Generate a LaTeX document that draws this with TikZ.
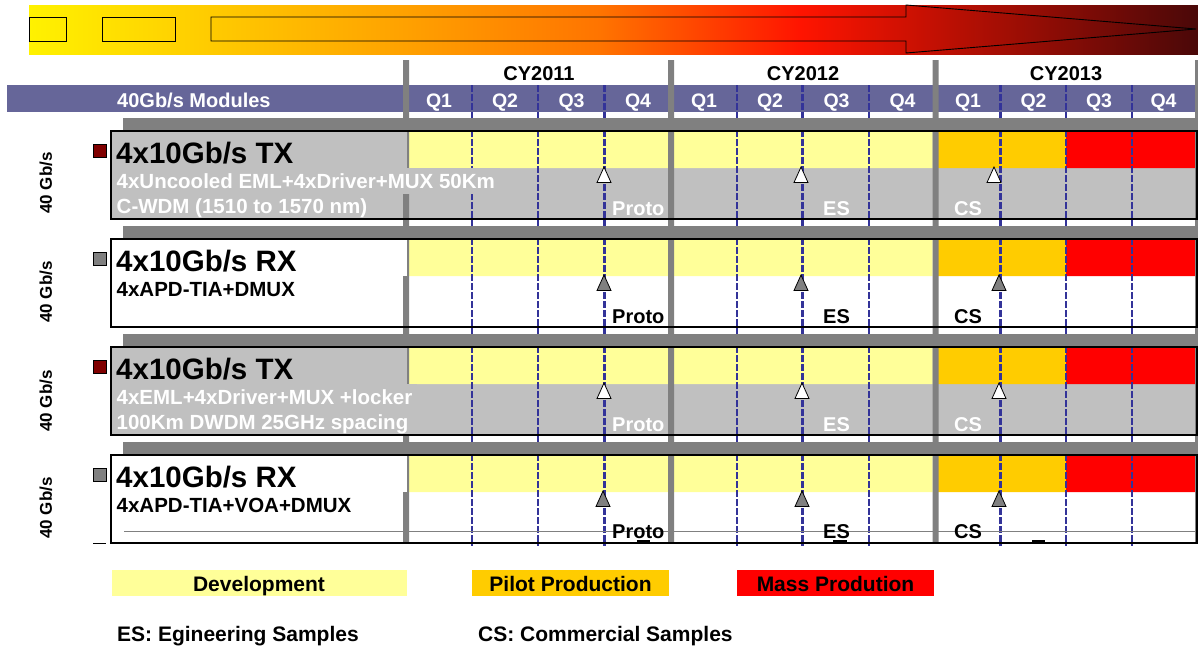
\documentclass[tikz,border=0pt]{standalone}
\usepackage{tikz}
\usepackage{fontspec}
\setmainfont{Liberation Sans}

\definecolor{bandA}{HTML}{FFF200}
\definecolor{bandB}{HTML}{FFA200}
\definecolor{bandE}{HTML}{FF7400}
\definecolor{bandC}{HTML}{FF1400}
\definecolor{bandD}{HTML}{4A0808}
\definecolor{hdrblue}{HTML}{666699}
\definecolor{bargray}{HTML}{808080}
\definecolor{rowgray}{HTML}{C0C0C0}
\definecolor{devyellow}{HTML}{FFFF99}
\definecolor{pilotorange}{HTML}{FFCC00}
\definecolor{massred}{HTML}{FF0000}
\definecolor{qblue}{HTML}{333399}
\definecolor{txred}{HTML}{800000}

\pgfdeclarehorizontalshading{bandshade}{100bp}{color(0bp)=(bandA); color(25bp)=(bandA); color(40.9bp)=(bandB); color(49.4bp)=(bandE); color(58bp)=(bandC); color(75bp)=(bandD); color(100bp)=(bandD)}

\begin{document}
\begin{tikzpicture}[
  x=1pt, y=-1pt,
  hdr/.style={font=\bfseries\fontsize{20}{22}\selectfont, inner sep=0pt, anchor=base},
  qlab/.style={font=\bfseries\fontsize{19.5}{22}\selectfont, text=white, inner sep=0pt, anchor=base},
  rowtitle/.style={font=\bfseries\fontsize{29.5}{32}\selectfont, inner sep=0pt, anchor=base west},
  subline/.style={font=\bfseries\fontsize{20.5}{24}\selectfont, anchor=base west, inner xsep=5pt, inner ysep=0pt, text height=20.5pt, text depth=5.5pt},
  mile/.style={font=\bfseries\fontsize{20}{22}\selectfont, inner sep=0pt, anchor=base west},
  rate/.style={font=\bfseries\fontsize{17}{20}\selectfont, rotate=90, inner sep=0pt},
  qline/.style={draw=qblue, line width=2pt, dash pattern=on 7pt off 2pt},
  mline/.style={qline, line width=3pt},
  tri/.style={draw=black, line width=0.8pt},
  legtext/.style={font=\bfseries\fontsize{21}{24}\selectfont, inner sep=0pt, anchor=base},
  scale=1
]
\useasboundingbox (0,0) rectangle (1198,648);

% Timeline band
\shade[shading=bandshade] (29,5) rectangle (1198,54);
\draw[line width=0.9pt] (29,17) rectangle (66,41);
\draw[line width=0.9pt] (102,17) rectangle (175,41);
\draw[line width=0.9pt] (211,17) -- (906,17) -- (906,5) -- (1196,29) -- (906,53) -- (906,41) -- (211,41) -- cycle;

% Header
\fill[hdrblue] (7,85) rectangle (1195,112);
\node[hdr, text=white, anchor=base west] (modules) at (117,107) {40Gb/s Modules};
\node[hdr] (cy11) at (539,80) {CY2011};
\node[hdr] (cy12) at (803,80) {CY2012};
\node[hdr] (cy13) at (1066,80) {CY2013};
\node[qlab] (q11) at (439,107) {Q1};
\node[qlab] (q21) at (505,107) {Q2};
\node[qlab] (q31) at (571.5,107) {Q3};
\node[qlab] (q41) at (638,107) {Q4};
\node[qlab] (q12) at (704,107) {Q1};
\node[qlab] (q22) at (770,107) {Q2};
\node[qlab] (q32) at (836.5,107) {Q3};
\node[qlab] (q42) at (902.5,107) {Q4};
\node[qlab] (q13) at (968,107) {Q1};
\node[qlab] (q23) at (1033.5,107) {Q2};
\node[qlab] (q33) at (1099,107) {Q3};
\node[qlab] (q43) at (1163.5,107) {Q4};

% Row boxes and phases
\fill[rowgray] (111,131) rectangle (1197,219) (111,347) rectangle (1197,435);
\fill[white] (111,239) rectangle (1197,327) (111,455) rectangle (1197,543);
\fill[devyellow] (406,132) rectangle (932.5,168) (406,240) rectangle (932.5,276)
  (406,348) rectangle (932.5,384) (406,456) rectangle (932.5,492);
\fill[pilotorange] (938,132) rectangle (1066,168) (938,240) rectangle (1066,276)
  (938,348) rectangle (1066,384) (938,456) rectangle (1066,492);
\fill[massred] (1066,132) rectangle (1196,168) (1066,240) rectangle (1196,276)
  (1066,348) rectangle (1196,384) (1066,456) rectangle (1196,492);

% Quarter lines
\draw[qline] (472,85) -- (472,546) (538,85) -- (538,546) (736.5,85) -- (736.5,546)
  (868.5,85) -- (868.5,546) (1066,85) -- (1066,546) (1131.5,85) -- (1131.5,546);
\draw[mline] (604,85) -- (604,546) (802,85) -- (802,546) (1000,85) -- (1000,546);

% Year bars and separators
\fill[bargray] (403,60) rectangle (409,543) (668,60) rectangle (674,543)
  (932.5,60) rectangle (938.5,543) (1195,60) rectangle (1198,543);
\fill[bargray] (123,118) rectangle (1198,130) (123,226) rectangle (1198,238)
  (123,334) rectangle (1198,346) (123,442) rectangle (1198,454);
\draw[bargray, line width=1pt] (124,531) -- (1196,531);

% Row 1
\fill[rowgray] (111.5,131.5) rectangle (407,168);
\node[rowtitle] (tx1) at (116,163) {4x10Gb/s TX};
\node[subline, fill=rowgray, text=white] (tx1a) at (111.5,188) {4xUncooled EML+4xDriver+MUX 50Km};
\node[subline, fill=rowgray, text=white] (tx1b) at (111.5,213) {C-WDM (1510 to 1570 nm)};

% Row 2
\fill[white] (111.5,239.5) rectangle (407,276);
\node[rowtitle] (rx1) at (116,271) {4x10Gb/s RX};
\node[subline, fill=white] (rx1a) at (111.5,296) {4xAPD-TIA+DMUX};

% Row 3
\fill[rowgray] (111.5,347.5) rectangle (407,384);
\node[rowtitle] (tx2) at (116,379) {4x10Gb/s TX};
\node[subline, fill=rowgray, text=white] (tx2a) at (111.5,404) {4xEML+4xDriver+MUX +locker};
\node[subline, fill=rowgray, text=white] (tx2b) at (111.5,429) {100Km DWDM 25GHz spacing};

% Row 4
\fill[white] (111.5,455.5) rectangle (407,492);
\node[rowtitle] (rx2) at (116,487) {4x10Gb/s RX};
\node[subline, fill=white] (rx2a) at (111.5,512) {4xAPD-TIA+VOA+DMUX};

% Borders
\draw[line width=1.2pt] (111,131) rectangle (1197,219) (111,239) rectangle (1197,327)
  (111,347) rectangle (1197,435) (111,455) rectangle (1197,543);
\draw[line width=1pt] (93,543.5) -- (106,543.5);
\draw[line width=2.5pt] (637,541.5) -- (650,541.5) (833,541.5) -- (847,541.5) (1032,541.5) -- (1045,541.5);

% Milestones
\filldraw[tri, fill=white] (597,182.5) -- (604,167) -- (611,182.5) -- cycle;
\filldraw[tri, fill=white] (794,182.5) -- (801,167) -- (808,182.5) -- cycle;
\filldraw[tri, fill=white] (987,182.5) -- (994,167) -- (1001,182.5) -- cycle;
\filldraw[tri, fill=bargray] (597,290.5) -- (604,275) -- (611,290.5) -- cycle;
\filldraw[tri, fill=bargray] (794,290.5) -- (801,275) -- (808,290.5) -- cycle;
\filldraw[tri, fill=bargray] (992,290.5) -- (999,275) -- (1006,290.5) -- cycle;
\filldraw[tri, fill=white] (597,398.5) -- (604,383) -- (611,398.5) -- cycle;
\filldraw[tri, fill=white] (795,398.5) -- (802,383) -- (809,398.5) -- cycle;
\filldraw[tri, fill=white] (992,398.5) -- (999,383) -- (1006,398.5) -- cycle;
\filldraw[tri, fill=bargray] (596,506.5) -- (603,491) -- (610,506.5) -- cycle;
\filldraw[tri, fill=bargray] (795,506.5) -- (802,491) -- (809,506.5) -- cycle;
\filldraw[tri, fill=bargray] (992,506.5) -- (999,491) -- (1006,506.5) -- cycle;

\node[mile, text=white] (proto1) at (612,215) {Proto};
\node[mile, text=white] (es1) at (823,215) {ES};
\node[mile, text=white] (cs1) at (954,215) {CS};
\node[mile] (proto2) at (612,323) {Proto};
\node[mile] (es2) at (823,323) {ES};
\node[mile] (cs2) at (954,323) {CS};
\node[mile, text=white] (proto3) at (612,431) {Proto};
\node[mile, text=white] (es3) at (823,431) {ES};
\node[mile, text=white] (cs3) at (954,431) {CS};
\node[mile] (proto4) at (612,538) {Proto};
\node[mile] (es4) at (823,538) {ES};
\node[mile] (cs4) at (954,538) {CS};

% Left column
\filldraw[fill=txred, line width=0.8pt] (93,144) rectangle (106,157);
\filldraw[fill=bargray, line width=0.8pt] (93,252) rectangle (106,265);
\filldraw[fill=txred, line width=0.8pt] (93,360) rectangle (106,373);
\filldraw[fill=bargray, line width=0.8pt] (93,468) rectangle (106,481);
\node[rate] (rate1) at (46,183) {40 Gb/s};
\node[rate] (rate2) at (46,292) {40 Gb/s};
\node[rate] (rate3) at (46,401) {40 Gb/s};
\node[rate] (rate4) at (46,508) {40 Gb/s};

% Legend
\fill[devyellow] (111.5,570) rectangle (407,596);
\fill[pilotorange] (472,570) rectangle (669,596);
\fill[massred] (737,570) rectangle (934,596);
\node[legtext] (dev) at (259,591) {Development};
\node[legtext] (pilot) at (570.5,591) {Pilot Production};
\node[legtext] (mass) at (835.5,591) {Mass Prodution};
\node[legtext, anchor=base west] (esnote) at (117,641) {ES: Egineering Samples};
\node[legtext, anchor=base west] (csnote) at (478,641) {CS: Commercial Samples};
\end{tikzpicture}
\end{document}
